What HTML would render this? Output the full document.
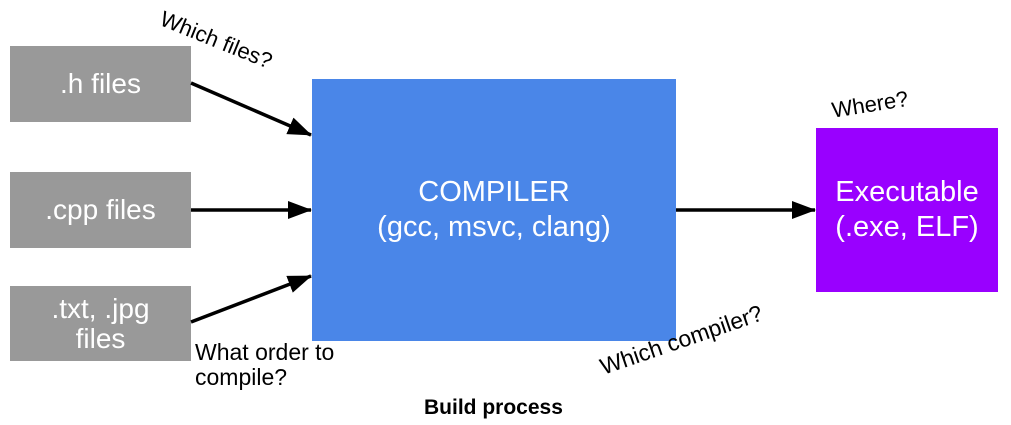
<!DOCTYPE html>
<html><head><meta charset="utf-8"><style>
body{margin:0;width:1011px;height:425px;background:#fff;position:relative;overflow:hidden;font-family:"Liberation Sans",sans-serif}
.b{position:absolute;display:flex;align-items:center;justify-content:center;text-align:center;color:#fff}
.g{background:#999999;font-size:28px;line-height:30px}
.t{position:absolute;color:#000;font-size:23px;white-space:nowrap;line-height:25px}
</style></head><body>
<div class="b g" style="left:10px;top:46px;width:181px;height:76px">.h files</div>
<div class="b g" style="left:10px;top:172px;width:181px;height:76px">.cpp files</div>
<div class="b g" style="left:10px;top:286px;width:181px;height:75px">.txt, .jpg<br>files</div>
<div class="b" style="left:312px;top:79px;width:364px;height:262px;background:#4a86e8;font-size:29px;line-height:35px">COMPILER<br>(gcc, msvc, clang)</div>
<div class="b" style="left:816px;top:128px;width:182px;height:164px;background:#9900ff;font-size:29px;line-height:35px">Executable<br>(.exe, ELF)</div>
<svg style="position:absolute;left:0;top:0" width="1011" height="425">
<defs><marker id="a" markerWidth="24" markerHeight="18" refX="23" refY="9" orient="auto" markerUnits="userSpaceOnUse" viewBox="0 0 24 18"><path d="M0,0L24,9L0,18z" fill="#000"/></marker></defs>
<g stroke="#000" stroke-width="3.5" marker-end="url(#a)" fill="none">
<line x1="191" y1="83" x2="311" y2="135"/>
<line x1="191" y1="210" x2="311" y2="210"/>
<line x1="191" y1="322" x2="311" y2="276"/>
<line x1="676" y1="210" x2="815" y2="210"/>
</g></svg>
<div class="t" style="left:166px;top:6px;transform:rotate(22deg);transform-origin:0 0;font-size:22px">Which files?</div>
<div class="t" style="left:830px;top:98px;transform:rotate(-9deg);transform-origin:0 0;font-size:22px">Where?</div>
<div class="t" style="left:597px;top:356px;transform:rotate(-19deg);transform-origin:0 0">Which compiler?</div>
<div class="t" style="left:195px;top:340px">What order to<br>compile?</div>
<div class="t" style="left:424px;top:395px;font-weight:bold;font-size:21px">Build process</div>
</body></html>
